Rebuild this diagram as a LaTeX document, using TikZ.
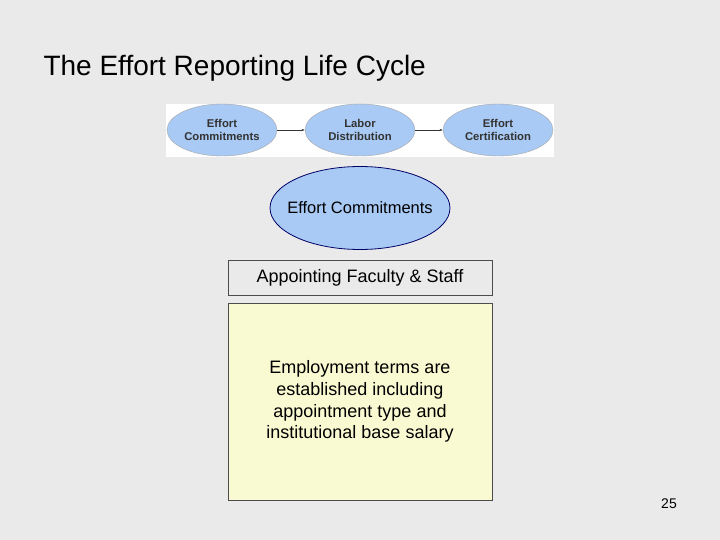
\documentclass[tikz,border=0pt]{standalone}
\usepackage{fontspec}
\setmainfont{Liberation Sans}
\usetikzlibrary{shapes.geometric,arrows.meta}
\definecolor{bg}{HTML}{EAEAEA}
\definecolor{ell}{HTML}{A8CAF4}
\definecolor{note}{HTML}{FAFAD2}
\begin{document}
\begin{tikzpicture}[x=1pt,y=-1pt,
  small/.style={ellipse,draw=gray!70,fill=ell,minimum width=110pt,minimum height=52pt,inner sep=0pt,align=center,font=\bfseries\fontsize{11.3}{13}\selectfont,text=black!80},
  bx/.style={draw=black!70,minimum width=264pt,inner sep=0pt,align=center,font=\fontsize{18}{21.7}\selectfont}]
\fill[bg] (0,0) rectangle (720,540);
\node[anchor=west,font=\fontsize{28}{32}\selectfont] (title) at (40,68) {The Effort Reporting Life Cycle};
\fill[white] (166,104) rectangle (554,157);
\node[small] (a) at (222,130) {Effort\\Commitments};
\node[small] (b) at (360,130) {Labor\\Distribution};
\node[small] (c) at (498,130) {Effort\\Certification};
\draw[-{Latex[length=3pt]},black!80] (a) -- (b);
\draw[-{Latex[length=3pt]},black!80] (b) -- (c);
\node[ellipse,draw=blue!40!black,thick,fill=ell,minimum width=180pt,minimum height=83pt,inner sep=0pt] (ec) at (360,208) {};
\node[font=\fontsize{16.5}{19}\selectfont] (ect) at (ec) {Effort Commitments};
\node[bx,fill=bg,minimum height=35pt] (app) at (360,277.5) {Appointing Faculty \& Staff};
\node[bx,fill=note,minimum height=197pt] (emp) at (360,401.5) {Employment terms are\\established including\\appointment type and\\institutional base salary};
\node[font=\fontsize{14}{16}\selectfont] (pg) at (669,504) {25};
\end{tikzpicture}
\end{document}
